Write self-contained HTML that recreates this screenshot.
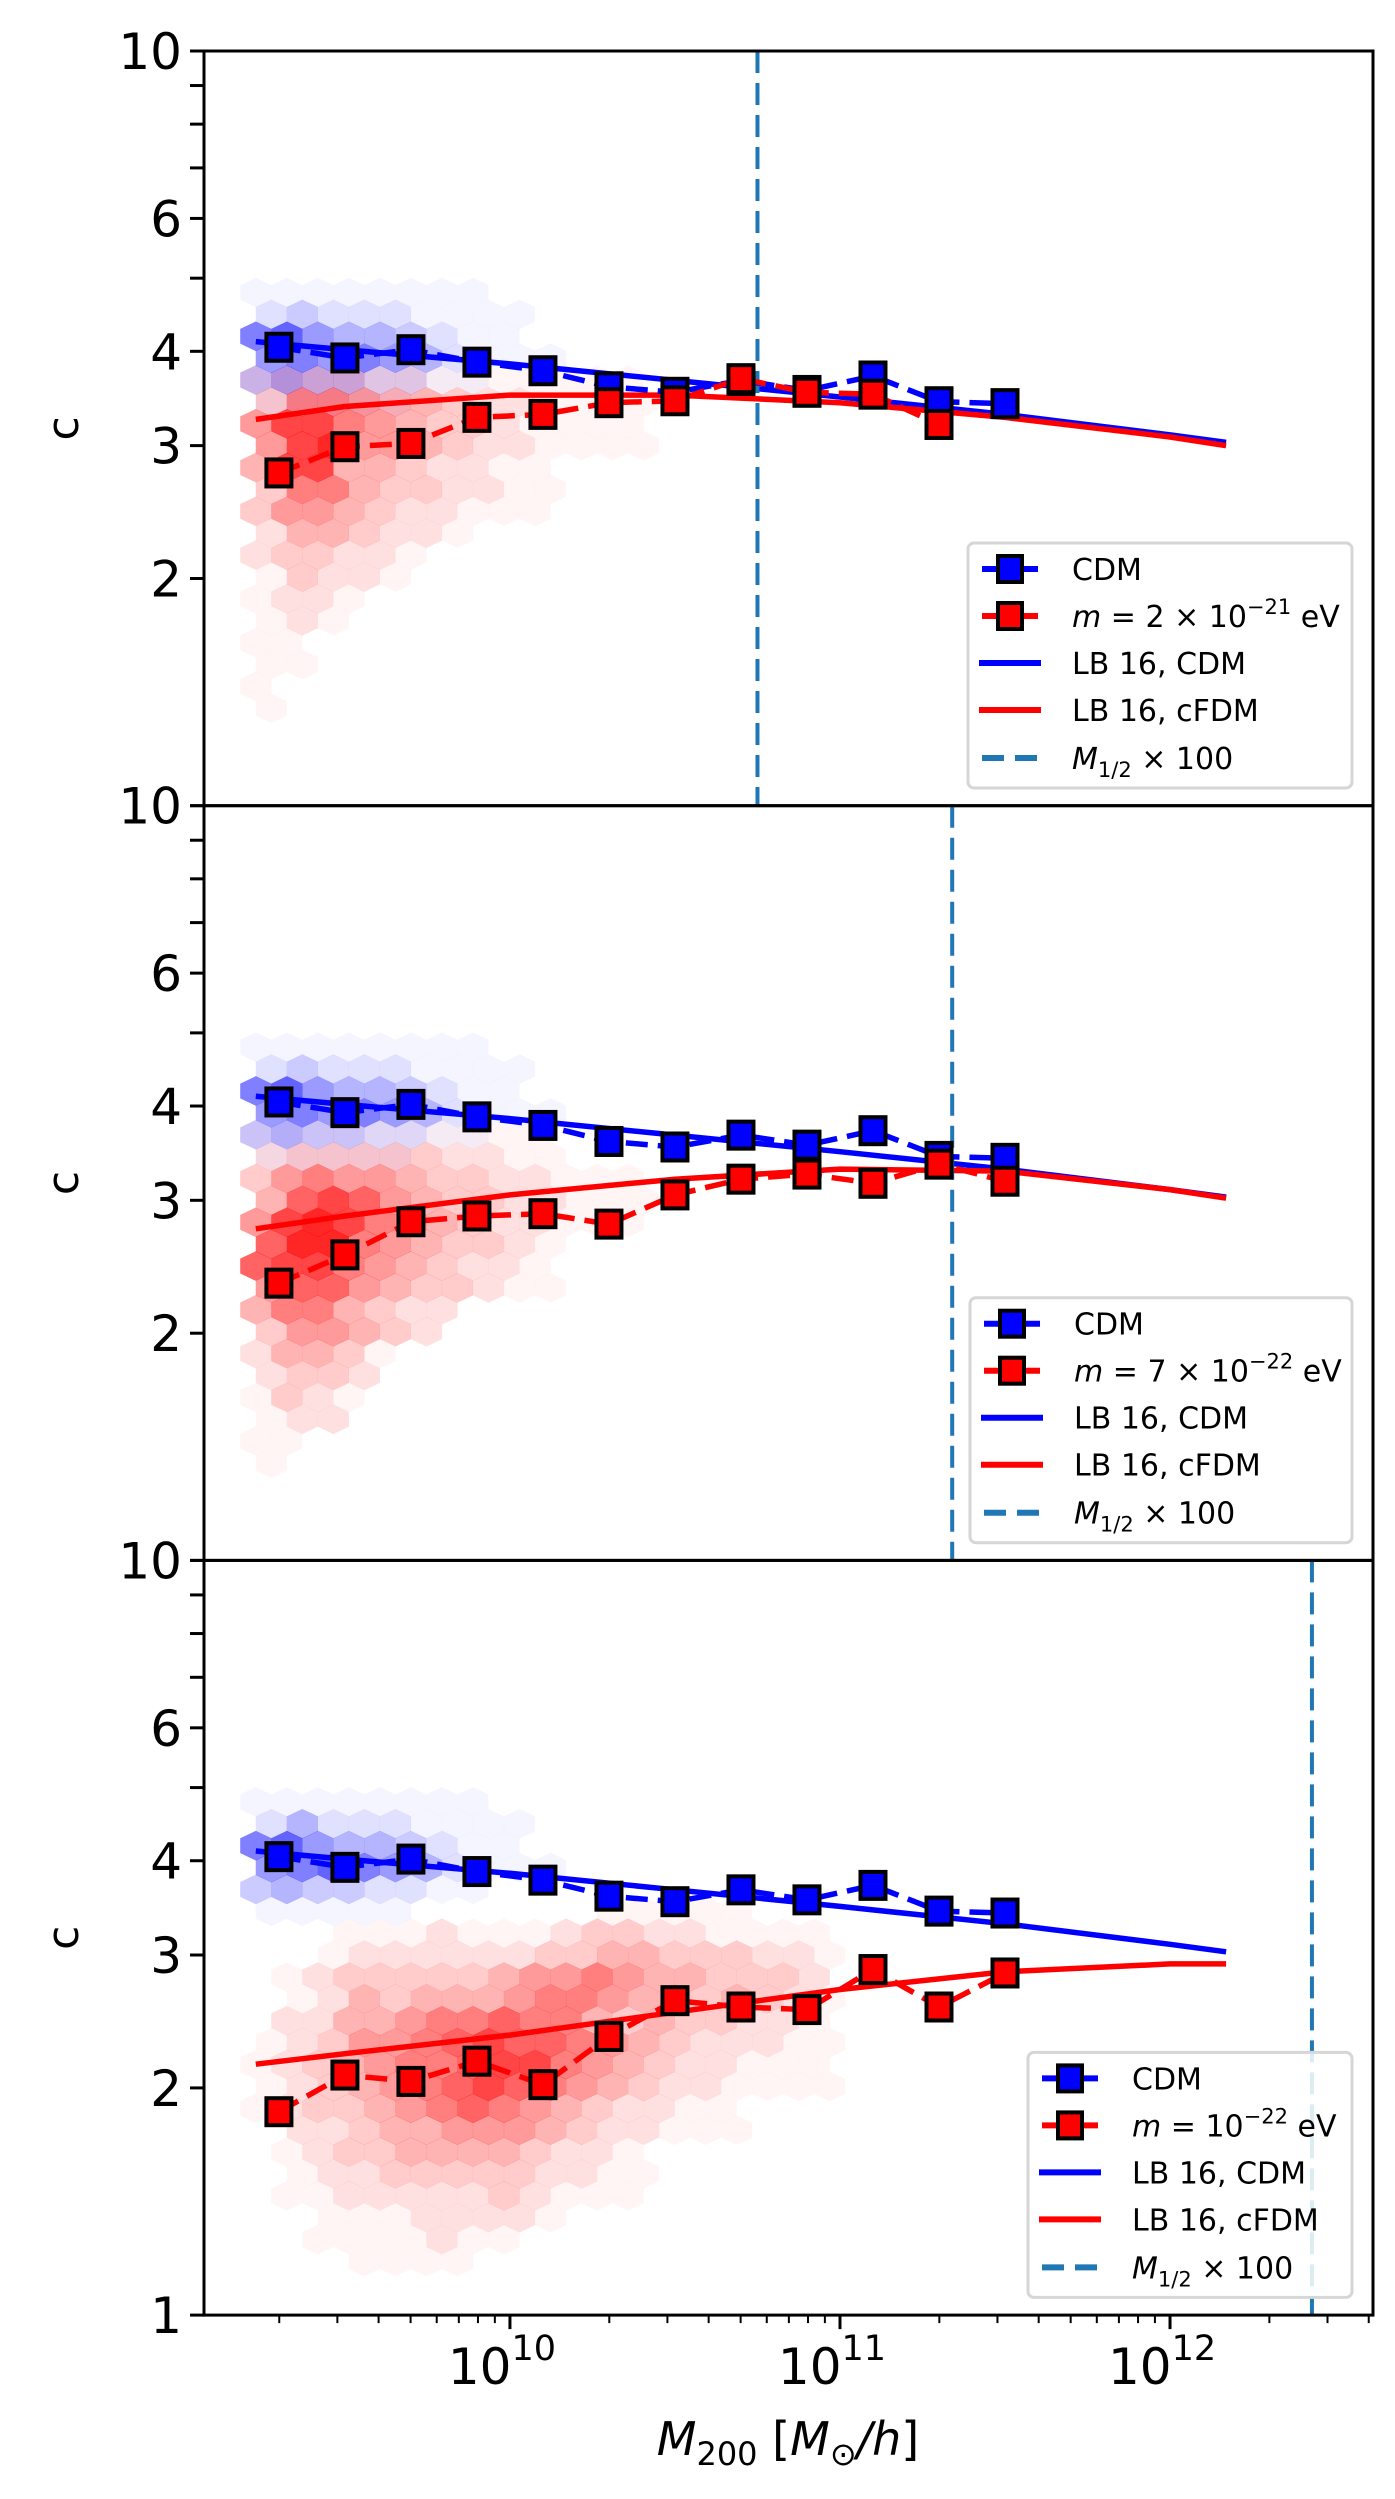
<!DOCTYPE html>
<html><head><meta charset="utf-8">
<style>
html,body{margin:0;padding:0;background:#fff;}
svg{display:block;font-family:"DejaVu Sans","Liberation Sans",sans-serif;}
</style></head>
<body>
<svg id="fig" width="1395" height="2499" viewBox="0 0 1395 2499" xmlns="http://www.w3.org/2000/svg"></svg>
<script>
// ---- data ----
const massLog = [9.3, 9.5, 9.7, 9.9, 10.1, 10.3, 10.5, 10.7, 10.9, 11.1, 11.3, 11.5];
const cdmValues = [4.05, 3.92, 4.02, 3.87, 3.77, 3.59, 3.53, 3.66, 3.55, 3.71, 3.43, 3.41];
const fdmValues1 = [2.76, 2.99, 3.02, 3.27, 3.30, 3.42, 3.44, 3.68, 3.53, 3.51, 3.20];
const fdmValues2 = [2.33, 2.54, 2.81, 2.86, 2.88, 2.79, 3.05, 3.20, 3.25, 3.16, 3.35, 3.18];
const fdmValues3 = [1.86, 2.08, 2.04, 2.17, 2.02, 2.34, 2.61, 2.56, 2.54, 2.87, 2.56, 2.84];
const lbMassLog = [9.23, 9.5, 10.0, 10.5, 11.0, 11.5, 12.0, 12.17];
const lbCdm = [4.12, 4.02, 3.85, 3.66, 3.48, 3.30, 3.10, 3.03];
const lbFdm1 = [3.25, 3.38, 3.50, 3.50, 3.42, 3.27, 3.08, 3.00];
const lbFdm2 = [2.75, 2.86, 3.05, 3.20, 3.30, 3.28, 3.10, 3.02];
const lbFdm3 = [2.15, 2.22, 2.35, 2.52, 2.70, 2.85, 2.92, 2.92];
const halfModeLog = [10.75, 11.34, 12.43];
const massLabels = ["2 × 10", "7 × 10", "10"];
const massExps = ["−21", "−22", "−22"];
const yTickVals = [2, 3, 4, 6];
const yMinorVals = [2, 3, 4, 5, 6, 7, 8, 9];
const xMajorExp = [10, 11, 12];
// hexbin densities (rows of digits 0-9), row r at log c = 0.68 - 0.029 r
const blueHex1 = ["1111111100000","2322211110000","6754432110000","5656542111","3433221100","1111100"];
const redHex1 = ["","","","","2333221111111","3665443221111","5886543321111","5895543221111","4884432211","36643322110","3554322111","2443221","233221","13221","1221","121","11","11","1","1"];
const blueHex2 = blueHex1;
const redHex2 = ["","","","","1111111111","2333332211","3565543322111","4787543322111","5898654322111","7996543321","7886543221","5775433211","4664322","355432","24431","2332","1321","122","11","1"];
const blueHex3 = ["1111111100000","2422211110000","6754432110000","5676542111","3433221100","1111100","0"];
const redHex3 = ["","","","","","0000000000011111","0001112111233221111","0012222223344333221","0123333345565443332","0124344456654434321","0224456676643433221","1235567877654322211","1234566788654322111","1234567876543221111","1233456765432211","0223445554322111","0123344443221","0122333332211","0112222232111","0011122221","001111211","0001111"];

const panelsData = [
  {fdm: fdmValues1, lb: lbFdm1, hm: halfModeLog[0], lab: massLabels[0], exp: massExps[0], blue: blueHex1, red: redHex1, legX: 968},
  {fdm: fdmValues2, lb: lbFdm2, hm: halfModeLog[1], lab: massLabels[1], exp: massExps[1], blue: blueHex2, red: redHex2, legX: 970},
  {fdm: fdmValues3, lb: lbFdm3, hm: halfModeLog[2], lab: massLabels[2], exp: massExps[2], blue: blueHex3, red: redHex3, legX: 1028},
];

// ---- geometry ----
const NS = "http://www.w3.org/2000/svg";
const svg = document.getElementById("fig");
const AX_L = 204, AX_R = 1373, XMIN = 9.073, XMAX = 12.615;
const PANEL_TOP = 51, PANEL_H = 754.7;
function xs(lm){ return AX_L + (lm - XMIN) / (XMAX - XMIN) * (AX_R - AX_L); }
function ysFor(p){ const top = PANEL_TOP + p * PANEL_H; return c => top + PANEL_H * (1 - Math.log10(c)); }
function ysLog(p){ const top = PANEL_TOP + p * PANEL_H; return lc => top + PANEL_H * (1 - lc); }
function mk(tag, attrs, parent){ const e = document.createElementNS(NS, tag); for (const k in attrs) e.setAttribute(k, attrs[k]); (parent||svg).appendChild(e); return e; }

panelsData.forEach((pd, p) => {
  const y = ysFor(p), yl = ysLog(p);
  const top = PANEL_TOP + p * PANEL_H, bot = top + PANEL_H;
  const g = mk("g", {});
  
  
  const clipId = "clip" + p;
  const cp = mk("clipPath", {id: clipId}, g);
  mk("rect", {x: AX_L, y: top, width: AX_R - AX_L, height: PANEL_H}, cp);
  const plot = mk("g", {"clip-path": "url(#" + clipId + ")"}, g);

  // hexbins
  const hexG = mk("g", {}, plot);
  
  
  function drawHex(rows, color){
    rows.forEach((row, r) => {
      for (let j = 0; j < row.length; j++) {
        const d = +row[j];
        if (!d) continue;
        const cx = xs(9.23 + j * 0.094 + (r % 2) * 0.047);
        const cy = yl(0.68 - 0.029 * r);
        const w = 15.6, h = 14.8, s = 7.4;
        const pts = [[cx, cy-h],[cx+w, cy-s],[cx+w, cy+s],[cx, cy+h],[cx-w, cy+s],[cx-w, cy-s]].map(q=>q.join(",")).join(" ");
        const a = d === 1 ? 0.04 : Math.pow(d/9, 1.3) * 0.85;
        const hx = mk("polygon", {points: pts, fill: color, "fill-opacity": a.toFixed(3)}, hexG);
        
        
      }
    });
  }
  drawHex(pd.red, "#ff0000");
  drawHex(pd.blue, "#0000ff");

  // LB16 curves
  function curve(vals, color, name){
    const d = lbMassLog.map((m,i)=>(i?"L":"M")+xs(m).toFixed(1)+","+y(vals[i]).toFixed(1)).join(" ");
    const pth = mk("path", {d, fill:"none", stroke: color, "stroke-width": 5.5}, plot);
    
    
  }
  curve(lbCdm, "#0000ff", "lb16-cdm-curve");
  curve(pd.lb, "#ff0000", "lb16-cfdm-curve");

  // half-mode line
  const vl = mk("line", {x1: xs(pd.hm), x2: xs(pd.hm), y1: top, y2: bot, stroke: "#1f77b4", "stroke-width": 4, "stroke-dasharray": "22 10"}, plot);
  
  

  // data series
  function series(vals, color, name){
    const d = vals.map((v,i)=>(i?"L":"M")+xs(massLog[i]).toFixed(1)+","+y(v).toFixed(1)).join(" ");
    const pth = mk("path", {d, fill:"none", stroke: color, "stroke-width": 5.5, "stroke-dasharray": "22 10"}, plot);
    
    
    vals.forEach((v,i)=>{
      const r = mk("rect", {x: xs(massLog[i]) - 12.5, y: y(v) - 13.5, width: 25, height: 27, fill: color, stroke: "#000", "stroke-width": 4}, plot);
      
      
    });
  }
  series(cdmValues, "#0000ff", "cdm");
  series(pd.fdm, "#ff0000", "fdm");

  // axes frame
  const fr = mk("rect", {x: AX_L, y: top, width: AX_R-AX_L, height: PANEL_H, fill:"none", stroke:"#000", "stroke-width": 3}, g);
  
  

  // y ticks
  yMinorVals.forEach(v=>{ mk("line", {x1: AX_L-14, x2: AX_L, y1: y(v), y2: y(v), stroke:"#000", "stroke-width": 3}, g); });
  mk("line", {x1: AX_L-14, x2: AX_L, y1: y(10), y2: y(10), stroke:"#000", "stroke-width": 3}, g);
  mk("line", {x1: AX_L-14, x2: AX_L, y1: y(1), y2: y(1), stroke:"#000", "stroke-width": 3}, g);
  yTickVals.concat([10]).forEach(v=>{
    const t = mk("text", {x: AX_L-22, y: y(v)+18, "text-anchor":"end", "font-size": 50}, g);
    t.textContent = String(v);
    
    
  });
  if (p === 2) {
    const t = mk("text", {x: AX_L-22, y: y(1)+18, "text-anchor":"end", "font-size": 50}, g);
    t.textContent = "1";
    
    
  }
  const yt = mk("text", {x: 0, y: 0, "text-anchor":"middle", "font-size": 44, transform: "translate(78," + ((top+bot)/2) + ") rotate(-90)"}, g);
  yt.textContent = "c";
  
  

  // legend
  const lx = pd.legX, ly = top + 492, lw = 1352 - lx, lh = 245;
  const lg = mk("g", {}, g);
  
  
  mk("rect", {x: lx, y: ly, width: lw, height: lh, rx: 6, fill: "#fff", "fill-opacity": 0.85, stroke: "#d6d6d6", "stroke-width": 3}, lg);
  const hx0 = lx + 14, hx1 = lx + 70, tx = lx + 104;
  const rows = [ly+26, ly+73, ly+120, ly+167, ly+215];
  function entry(i, kind, color, build){
    const e = mk("g", {}, lg);
    
    
    const ry = rows[i];
    if (kind === "marker") {
      mk("line", {x1: hx0, x2: hx1, y1: ry, y2: ry, stroke: color, "stroke-width": 6}, e);
      mk("rect", {x: (hx0+hx1)/2-12, y: ry-13, width: 24, height: 26, fill: color, stroke:"#000", "stroke-width": 4}, e);
    } else if (kind === "solid") {
      mk("line", {x1: hx0-3, x2: hx1+3, y1: ry, y2: ry, stroke: color, "stroke-width": 6}, e);
    } else {
      mk("line", {x1: hx0, x2: hx1, y1: ry, y2: ry, stroke: color, "stroke-width": 6, "stroke-dasharray": "22 11"}, e);
    }
    const t = mk("text", {x: tx, y: ry + 11, "font-size": 30}, e);
    build(t);
  }
  entry(0, "marker", "#0000ff", t => { t.textContent = "CDM"; });
  entry(1, "marker", "#ff0000", t => {
    const a = mk("tspan", {"font-style":"italic"}, t); a.textContent = "m";
    const b = mk("tspan", {}, t); b.textContent = " = " + pd.lab;
    const c = mk("tspan", {"font-size": 21, dy: -13}, t); c.textContent = pd.exp;
    const d = mk("tspan", {dy: 13}, t); d.textContent = " eV";
  });
  entry(2, "solid", "#0000ff", t => { t.textContent = "LB 16, CDM"; });
  entry(3, "solid", "#ff0000", t => { t.textContent = "LB 16, cFDM"; });
  entry(4, "dash", "#1f77b4", t => {
    const a = mk("tspan", {"font-style":"italic"}, t); a.textContent = "M";
    const b = mk("tspan", {"font-size": 21, dy: 8}, t); b.textContent = "1/2";
    const c = mk("tspan", {dy: -8}, t); c.textContent = " × 100";
  });
});

// x axis ticks (bottom panel)
const xb = PANEL_TOP + 3 * PANEL_H;
for (let dec = 9; dec <= 12; dec++) {
  for (let k = 1; k <= 9; k++) {
    const lm = dec + Math.log10(k);
    if (lm < XMIN || lm > XMAX) continue;
    const major = k === 1;
    mk("line", {x1: xs(lm), x2: xs(lm), y1: xb, y2: xb + (major ? 14 : 8), stroke: "#000", "stroke-width": major ? 3 : 2});
  }
}
xMajorExp.forEach(e => {
  const t = mk("text", {x: xs(e) - 8, y: 2384, "text-anchor": "middle", "font-size": 50});
  
  
  const a = mk("tspan", {}, t); a.textContent = "10";
  const b = mk("tspan", {"font-size": 35, dy: -24}, t); b.textContent = String(e);
});
const xt = mk("text", {x: 788, y: 2455, "text-anchor": "middle", "font-size": 46});


(function(){
  const a = mk("tspan", {"font-style":"italic"}, xt); a.textContent = "M";
  const b = mk("tspan", {"font-size": 32, dy: 10}, xt); b.textContent = "200";
  const c = mk("tspan", {dy: -10}, xt); c.textContent = " [";
  const d = mk("tspan", {"font-style":"italic"}, xt); d.textContent = "M";
  const e = mk("tspan", {"font-size": 32, dy: 10}, xt); e.textContent = "⊙";
  const f = mk("tspan", {dy: -10, "font-style":"italic"}, xt); f.textContent = "/h";
  const g2 = mk("tspan", {}, xt); g2.textContent = "]";
})();
</script>
</body></html>
